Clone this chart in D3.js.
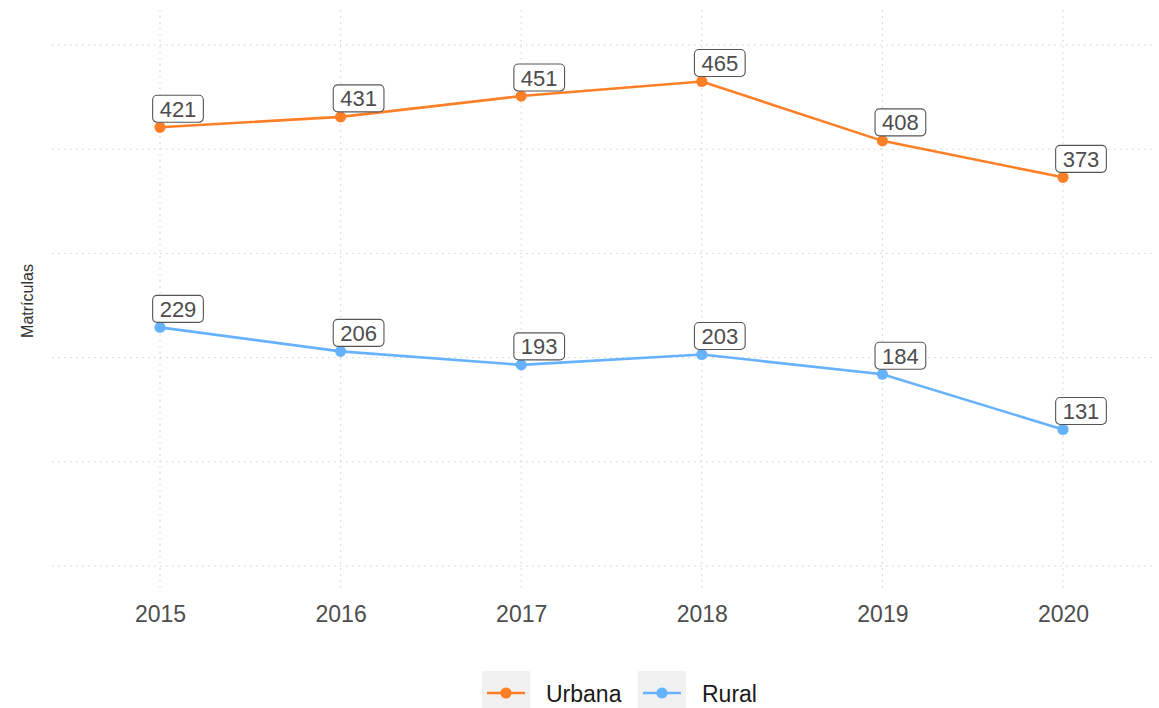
<!DOCTYPE html>
<html>
<head>
<meta charset="utf-8">
<script src="https://cdn.jsdelivr.net/npm/d3@7"></script>
<style>
  html, body { margin: 0; padding: 0; background: #fff; }
  svg { display: block; font-family: "Liberation Sans", Arial, sans-serif; }
</style>
</head>
<body>
<svg id="chart" width="1159" height="708"></svg>
<script>
// Enrolment counts by year and zone
const years = [2015, 2016, 2017, 2018, 2019, 2020];
const urbana = [421, 431, 451, 465, 408, 373];
const rural = [229, 206, 193, 203, 184, 131];
const yTicks = [0, 100, 200, 300, 400, 500];
const seriesNames = ["Urbana", "Rural"];
const seriesColors = ["#ff7f27", "#66b2ff"];

const series = [
  { name: seriesNames[0], color: seriesColors[0], values: urbana },
  { name: seriesNames[1], color: seriesColors[1], values: rural }
];

const panel = { left: 52, right: 1156, top: 10, bottom: 592 };

const svg = d3.select("#chart");

const x = d3.scalePoint()
  .domain(years)
  .range([160, 1063]);

const y = d3.scaleLinear()
  .domain([0, 500])
  .range([566, 45]);

// grid
const grid = svg.append("g").attr("class", "grid");
grid.selectAll("line.h")
  .data(yTicks)
  .join("line")
  .attr("class", "h")
  .attr("x1", panel.left).attr("x2", panel.right)
  .attr("y1", d => y(d)).attr("y2", d => y(d))
  .attr("stroke", "#cfcfcf").attr("stroke-width", 1)
  .attr("stroke-dasharray", "1.5,4.5");
grid.selectAll("line.v")
  .data(years)
  .join("line")
  .attr("class", "v")
  .attr("x1", d => x(d)).attr("x2", d => x(d))
  .attr("y1", panel.top).attr("y2", panel.bottom)
  .attr("stroke", "#cfcfcf").attr("stroke-width", 1)
  .attr("stroke-dasharray", "1.5,4.5");

// x axis labels
const xAxis = d3.axisBottom(x).tickSize(0).tickPadding(0);
const gx = svg.append("g")
  .attr("transform", `translate(0,${panel.bottom + 14})`)
  .call(xAxis);
gx.select(".domain").remove();
gx.selectAll("text")
  .attr("dy", "0.71em")
  .attr("font-size", 23)
  .attr("fill", "#4d4d4d")
  .attr("font-family", "\"Liberation Sans\", Arial, sans-serif");

// y title
svg.append("text")
  .attr("transform", `translate(33,${(panel.top + panel.bottom) / 2}) rotate(-90)`)
  .attr("text-anchor", "middle")
  .attr("font-size", 16)
  .attr("fill", "#333")
  .text("Matrículas");

// lines and points
const line = d3.line()
  .x((d, i) => x(years[i]))
  .y(d => y(d));

const sg = svg.append("g").selectAll("g.series")
  .data(series)
  .join("g")
  .attr("class", "series");

sg.append("path")
  .attr("d", d => line(d.values))
  .attr("fill", "none")
  .attr("stroke", d => d.color)
  .attr("stroke-width", 2.6);

sg.each(function(s) {
  d3.select(this).selectAll("circle")
    .data(s.values)
    .join("circle")
    .attr("cx", (d, i) => x(years[i]))
    .attr("cy", d => y(d))
    .attr("r", 5.6)
    .attr("fill", s.color);
});

// value labels
const labelG = svg.append("g");
series.forEach(s => {
  s.values.forEach((v, i) => {
    const px = x(years[i]), py = y(v);
    const g = labelG.append("g").attr("transform", `translate(${px - 7.5},${py - 4.5})`);
    const t = g.append("text")
      .attr("x", 25.5)
      .attr("y", -6)
      .attr("text-anchor", "middle")
      .attr("font-size", 22)
      .attr("fill", "#4d4d4d")
      .text(v);
    const bw = t.node().getComputedTextLength() + 14;
    g.insert("rect", "text")
      .attr("x", 25.5 - bw / 2)
      .attr("y", -27.5)
      .attr("width", bw)
      .attr("height", 27)
      .attr("rx", 4.5)
      .attr("fill", "#fff")
      .attr("stroke", "#555")
      .attr("stroke-width", 1.1);
  });
});

// legend
const legend = svg.append("g");
const keyX = [482, 638];
const keyW = 48;
series.forEach((s, i) => {
  const g = legend.append("g").attr("transform", `translate(${keyX[i]},671)`);
  g.append("rect").attr("width", keyW).attr("height", 40).attr("fill", "#f1f1f1");
  g.append("line")
    .attr("x1", 5).attr("x2", keyW - 5)
    .attr("y1", 22).attr("y2", 22)
    .attr("stroke", s.color).attr("stroke-width", 2.6);
  g.append("circle").attr("cx", keyW / 2).attr("cy", 22).attr("r", 5.6).attr("fill", s.color);
  g.append("text")
    .attr("x", keyW + 16)
    .attr("y", 31)
    .attr("font-size", 23)
    .attr("fill", "#1a1a1a")
    .text(s.name);
});
</script>
</body>
</html>
